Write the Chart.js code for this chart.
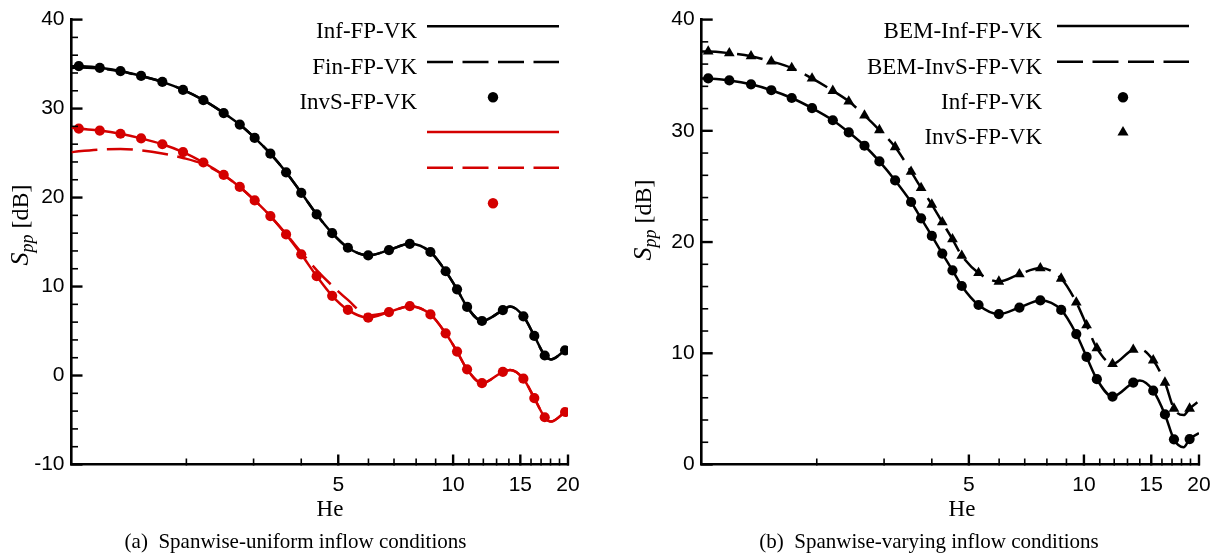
<!DOCTYPE html>
<html>
<head>
<meta charset="utf-8">
<script src="https://cdn.jsdelivr.net/npm/chart.js@4.4.1/dist/chart.umd.min.js"></script>
<style>
  html, body { margin: 0; padding: 0; background: #fff; }
  #wrap { position: relative; width: 1221px; height: 559px; overflow: hidden; }
  canvas { position: absolute; top: 0; }
</style>
</head>
<body>
<div id="wrap">
  <canvas id="chartA" width="610" height="559" style="left:0"></canvas>
  <canvas id="chartB" width="611" height="559" style="left:610px"></canvas>
</div>
<script>
/* =======================
   DATA (a) spanwise-uniform
======================= */

const heDotsA = [1.045, 1.186, 1.344, 1.522, 1.73, 1.96, 2.216, 2.505, 2.76, 3.02, 3.32, 3.65, 4.0, 4.39, 4.82, 5.3, 5.99, 6.79, 7.7, 8.72, 9.56, 10.24, 10.88, 11.9, 13.5, 15.28, 16.32, 17.38, 19.65];
const invsBlackA = [34.78, 34.58, 34.22, 33.67, 33.0, 32.1, 30.95, 29.5, 28.2, 26.7, 24.93, 22.84, 20.53, 18.1, 16.0, 14.36, 13.5, 14.1, 14.8, 13.88, 11.72, 9.69, 7.71, 6.13, 7.35, 6.65, 4.45, 2.25, 2.83];
const invsRedA = [27.75, 27.53, 27.17, 26.65, 25.99, 25.11, 23.94, 22.54, 21.19, 19.68, 17.92, 15.86, 13.62, 11.17, 8.96, 7.38, 6.5, 7.13, 7.79, 6.87, 4.74, 2.69, 0.7, -0.86, 0.41, -0.36, -2.53, -4.69, -4.1];

const heLineA = [1.0, 1.045, 1.186, 1.344, 1.522, 1.73, 1.96, 2.216, 2.505, 2.76, 3.02, 3.32, 3.65, 4.0, 4.39, 4.82, 5.3, 5.99, 6.79, 7.7, 8.72, 9.56, 10.24, 10.88, 11.9, 13.5, 14.1, 15.28, 16.32, 17.38, 18.05, 19.65];
const infBlackA = [34.75, 34.78, 34.58, 34.22, 33.67, 33.0, 32.1, 30.95, 29.5, 28.2, 26.7, 24.93, 22.84, 20.53, 18.1, 16.0, 14.36, 13.5, 14.1, 14.8, 13.88, 11.72, 9.69, 7.71, 6.13, 7.35, 7.75, 6.65, 4.45, 2.25, 1.81, 2.83];
const finBlackA = [34.55, 34.62, 34.5, 34.18, 33.65, 33.0, 32.1, 30.95, 29.5, 28.2, 26.7, 24.93, 22.84, 20.53, 18.1, 16.0, 14.36, 13.5, 14.1, 14.8, 13.88, 11.72, 9.69, 7.71, 6.13, 7.35, 7.75, 6.65, 4.45, 2.25, 1.81, 2.83];
const infRedA = [27.85, 27.75, 27.53, 27.17, 26.65, 25.99, 25.11, 23.94, 22.54, 21.19, 19.68, 17.92, 15.86, 13.62, 11.17, 8.96, 7.38, 6.5, 7.13, 7.79, 6.87, 4.74, 2.69, 0.7, -0.86, 0.41, 0.63, -0.36, -2.53, -4.69, -5.18, -4.1];
const finRedA = [25.1, 25.2, 25.4, 25.45, 25.3, 24.95, 24.45, 23.75, 22.5, 21.19, 19.68, 17.92, 15.9, 13.85, 11.85, 10.1, 8.5, 6.75, 7.13, 7.79, 6.87, 4.74, 2.69, 0.7, -0.86, 0.41, 0.63, -0.36, -2.53, -4.69, -5.18, -4.1];

/* =======================
   DATA (b) spanwise-varying
======================= */

const heDotsB = [1.04, 1.181, 1.346, 1.521, 1.72, 1.944, 2.203, 2.425, 2.666, 2.917, 3.207, 3.53, 3.75, 4.0, 4.26, 4.53, 4.79, 5.3, 5.99, 6.78, 7.69, 8.72, 9.55, 10.16, 10.81, 11.88, 13.46, 15.18, 16.29, 17.2, 18.9];
const infDotsB = [34.71, 34.53, 34.18, 33.65, 32.95, 32.04, 30.95, 29.86, 28.66, 27.25, 25.54, 23.6, 22.13, 20.55, 18.96, 17.46, 16.05, 14.34, 13.52, 14.11, 14.75, 13.9, 11.73, 9.67, 7.67, 6.11, 7.37, 6.64, 4.5, 2.26, 2.29];
const invsDotsB = [37.13, 36.98, 36.71, 36.24, 35.65, 34.71, 33.6, 32.65, 31.39, 30.07, 28.54, 26.33, 24.87, 23.37, 21.78, 20.25, 18.78, 17.22, 16.45, 17.11, 17.66, 16.72, 14.58, 12.52, 10.46, 9.05, 10.32, 9.37, 7.37, 5.03, 5.03];

const heLineB = [1.0, 1.04, 1.181, 1.346, 1.521, 1.72, 1.944, 2.203, 2.425, 2.666, 2.917, 3.207, 3.53, 3.75, 4.0, 4.26, 4.53, 4.79, 5.3, 5.99, 6.78, 7.69, 8.72, 9.55, 10.16, 10.81, 11.88, 13.46, 14.0, 15.18, 16.29, 17.2, 18.23, 18.9, 20.0];
const bemInfB = [34.71, 34.71, 34.53, 34.18, 33.65, 32.95, 32.04, 30.95, 29.86, 28.66, 27.25, 25.54, 23.6, 22.13, 20.55, 18.96, 17.46, 16.05, 14.34, 13.52, 14.11, 14.75, 13.9, 11.73, 9.67, 7.67, 6.11, 7.37, 7.55, 6.64, 4.5, 2.26, 1.55, 2.29, 2.82];
const bemInvsB = [37.13, 37.13, 36.98, 36.71, 36.24, 35.65, 34.71, 33.6, 32.65, 31.39, 30.07, 28.54, 26.33, 24.87, 23.37, 21.78, 20.25, 18.78, 17.22, 16.45, 17.11, 17.66, 16.72, 14.58, 12.52, 10.46, 9.05, 10.32, 10.37, 9.37, 7.37, 5.03, 4.44, 5.03, 5.7];

/* =======================
   TICKS
======================= */

const xTickVals = [5, 10, 15, 20];
const xMinorVals = [2, 3, 4, 6, 7, 8, 9, 11, 12, 13, 14, 16, 17, 18, 19];

const RED = "#d40000";
const DASH = [26, 9.5];

function pts(xs, ys) {
    return xs.map((x, i) => ({ x, y: ys[i] }));
}

Chart.defaults.font.family = "'Liberation Sans', Arial, sans-serif";
Chart.defaults.font.size = 20;
Chart.defaults.color = "#000";

/* =======================
   DECOR PLUGIN
======================= */

const decor = {
    id: "decor",
    afterDraw(chart, args, opts) {

        const ctx = chart.ctx;
        const xs = chart.scales.x;
        const ys = chart.scales.y;
        const area = chart.chartArea;

        ctx.save();
        ctx.strokeStyle = "#000";
        ctx.setLineDash([]);

        // inward ticks, x axis
        const xTick = (v, len, w) => {
            const px = xs.getPixelForValue(v);
            ctx.lineWidth = w;
            ctx.beginPath();
            ctx.moveTo(px, area.bottom + 1);
            ctx.lineTo(px, area.bottom - len);
            ctx.stroke();
        };
        xTickVals.forEach(v => xTick(v, 10, 2.4));
        xMinorVals.forEach(v => xTick(v, 6, 1.6));

        // inward ticks, y axis
        for (let v = ys.min; v <= ys.max; v += 2) {
            const py = ys.getPixelForValue(v);
            const major = v % 10 === 0;
            ctx.lineWidth = major ? 2.4 : 1.6;
            ctx.beginPath();
            ctx.moveTo(area.left - 1, py);
            ctx.lineTo(area.left + (major ? 11 : 6.5), py);
            ctx.stroke();
        }

        // y title: S_pp [dB]
        ctx.save();
        ctx.translate(opts.yTitleX, opts.yTitleY);
        ctx.rotate(-Math.PI / 2);
        ctx.fillStyle = "#000";
        ctx.textBaseline = "alphabetic";
        const fS = "italic 26px 'Liberation Serif', serif";
        const fSub = "italic 18px 'Liberation Serif', serif";
        const fU = "24px 'Liberation Serif', serif";
        ctx.font = fS; const wS = ctx.measureText("S").width;
        ctx.font = fSub; const wSub = ctx.measureText("pp").width;
        ctx.font = fU; const wU = ctx.measureText(" [dB]").width;
        let cx = -(wS + wSub + wU) / 2;
        ctx.font = fS; ctx.fillText("S", cx, 0); cx += wS;
        ctx.font = fSub; ctx.fillText("pp", cx, 5); cx += wSub;
        ctx.font = fU; ctx.fillText(" [dB]", cx, 0);
        ctx.restore();

        // x title
        ctx.fillStyle = "#000";
        ctx.textAlign = "center";
        ctx.textBaseline = "alphabetic";
        ctx.font = "23px 'Liberation Serif', serif";
        ctx.fillText("He", opts.xTitleX, 516);

        // caption
        ctx.font = "21px 'Liberation Serif', serif";
        ctx.fillText(opts.caption, opts.captionX, 548);

        // legend
        const lg = opts.legend;
        lg.items.forEach((it, i) => {
            const yRow = lg.rows[i];
            if (it.text) {
                ctx.font = "23px 'Liberation Serif', serif";
                ctx.textAlign = "right";
                ctx.fillStyle = "#000";
                ctx.fillText(it.text, lg.textRight, yRow + 12);
            }
            if (it.kind === "line") {
                ctx.strokeStyle = it.color;
                ctx.lineWidth = 2.6;
                ctx.setLineDash(it.dash || []);
                ctx.beginPath();
                ctx.moveTo(lg.x0, yRow);
                ctx.lineTo(lg.x1, yRow);
                ctx.stroke();
                ctx.setLineDash([]);
            } else {
                const mx = (lg.x0 + lg.x1) / 2;
                ctx.fillStyle = it.color;
                ctx.beginPath();
                if (it.kind === "dot") {
                    ctx.arc(mx, yRow, 5.2, 0, Math.PI * 2);
                } else {
                    const r = 6.4;
                    ctx.moveTo(mx, yRow - r);
                    ctx.lineTo(mx + r * 0.866, yRow + r * 0.5);
                    ctx.lineTo(mx - r * 0.866, yRow + r * 0.5);
                    ctx.closePath();
                }
                ctx.fill();
            }
        });

        ctx.restore();
    }
};

/* =======================
   CHART BUILDER
======================= */

function makeChart(id, datasets, yMin, yW, padRight, decorOpts) {
    return new Chart(document.getElementById(id), {
        type: "line",
        data: { datasets },
        options: {
            responsive: false,
            animation: false,
            devicePixelRatio: 1,
            layout: { padding: { left: 0, right: padRight, top: 11.5, bottom: 0 } },
            plugins: {
                legend: { display: false },
                tooltip: { enabled: false },
                decor: decorOpts
            },
            elements: {
                line: { cubicInterpolationMode: "monotone", borderWidth: 2.5, fill: false },
                point: { radius: 0, hoverRadius: 0, borderWidth: 0 }
            },
            scales: {
                x: {
                    type: "logarithmic",
                    min: 1,
                    max: 20,
                    afterBuildTicks: s => { s.ticks = xTickVals.map(v => ({ value: v })); },
                    afterFit: s => { s.height = 94.5; },
                    grid: { display: false, drawTicks: false },
                    border: { display: true, color: "#000", width: 2.6 },
                    ticks: {
                        autoSkip: false,
                        maxRotation: 0,
                        padding: 8,
                        font: { size: 21 },
                        callback: v => String(v)
                    }
                },
                y: {
                    type: "linear",
                    min: yMin,
                    max: 40,
                    afterFit: s => { s.width = yW; },
                    grid: { display: false, drawTicks: false },
                    border: { display: true, color: "#000", width: 2.6 },
                    ticks: { stepSize: 10, padding: 7, font: { size: 21 } }
                }
            }
        },
        plugins: [decor]
    });
}

function dots(xs, ys, color, style, r) {
    return {
        data: pts(xs, ys),
        showLine: false,
        pointStyle: style,
        pointRadius: r,
        pointBackgroundColor: color,
        pointBorderWidth: 0,
        borderColor: color
    };
}

function curve(xs, ys, color, dash) {
    return {
        data: pts(xs, ys),
        borderColor: color,
        borderDash: dash || [],
        pointRadius: 0
    };
}

makeChart("chartA", [
    dots(heDotsA, invsBlackA, "#000", "circle", 5.1),
    dots(heDotsA, invsRedA, RED, "circle", 5.1),
    curve(heLineA, infBlackA, "#000"),
    curve(heLineA, finBlackA, "#000", DASH),
    curve(heLineA, infRedA, RED),
    curve(heLineA, finRedA, RED, DASH)
], -10, 71.5, 42, {
    yTitleX: 28,
    yTitleY: 225,
    xTitleX: 330,
    caption: "(a)  Spanwise-uniform inflow conditions",
    captionX: 295.5,
    legend: {
        textRight: 417,
        x0: 427,
        x1: 559,
        rows: [26.3, 62, 97.3, 132, 167.7, 203.3],
        items: [
            { text: "Inf-FP-VK", kind: "line", color: "#000" },
            { text: "Fin-FP-VK", kind: "line", color: "#000", dash: DASH },
            { text: "InvS-FP-VK", kind: "dot", color: "#000" },
            { text: "", kind: "line", color: RED },
            { text: "", kind: "line", color: RED, dash: DASH },
            { text: "", kind: "dot", color: RED }
        ]
    }
});

makeChart("chartB", [
    dots(heDotsB, infDotsB, "#000", "circle", 5.1),
    dots(heDotsB, invsDotsB, "#000", "triangle", 6.2),
    curve(heLineB, bemInfB, "#000"),
    curve(heLineB, bemInvsB, "#000", DASH)
], 0, 91.7, 22, {
    yTitleX: 41,
    yTitleY: 220,
    xTitleX: 352,
    caption: "(b)  Spanwise-varying inflow conditions",
    captionX: 319,
    legend: {
        textRight: 432,
        x0: 447,
        x1: 579,
        rows: [26, 61.7, 97.3, 132.3],
        items: [
            { text: "BEM-Inf-FP-VK", kind: "line", color: "#000" },
            { text: "BEM-InvS-FP-VK", kind: "line", color: "#000", dash: DASH },
            { text: "Inf-FP-VK", kind: "dot", color: "#000" },
            { text: "InvS-FP-VK", kind: "tri", color: "#000" }
        ]
    }
});
</script>
</body>
</html>
